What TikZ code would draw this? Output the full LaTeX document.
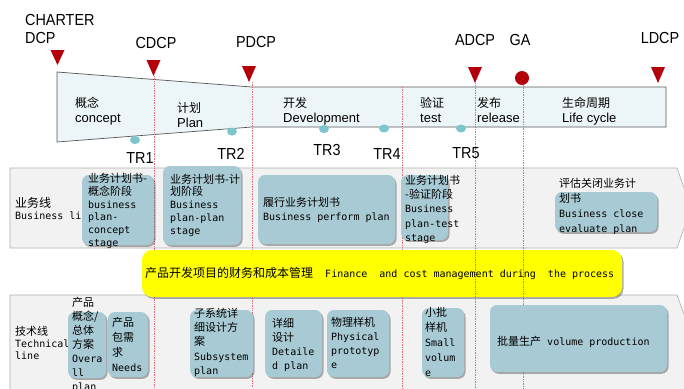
\documentclass[tikz,border=0pt]{standalone}
\usepackage{fontspec}
\setmainfont{Liberation Sans}
\newfontfamily\lab[FakeStretch=0.9]{Liberation Sans}
\newfontfamily\cjk{Noto Sans CJK SC}
\newfontfamily\mono{DejaVu Sans Mono}
\usetikzlibrary{shadows,shapes.geometric}
\definecolor{boxblue}{RGB}{168,202,212}
\definecolor{funnelfill}{RGB}{236,245,247}
\definecolor{bandfill}{RGB}{242,242,242}
\definecolor{banddraw}{RGB}{175,175,175}
\definecolor{trired}{RGB}{180,0,10}
\definecolor{linered}{RGB}{225,110,125}
\definecolor{teal}{RGB}{122,198,204}
\definecolor{ylw}{RGB}{255,255,0}
\newcommand\zh[1]{{\cjk\fontsize{11pt}{13pt}\selectfont #1}}
\begin{document}
\begin{tikzpicture}[x=1pt,y=-1pt,
  tri/.style={fill=trired},
  vline/.style={draw=linered, densely dotted, line width=0.7pt},
  bbox/.style={rounded corners=7pt, fill=boxblue, inner sep=0, drop shadow={shadow xshift=1.5pt,shadow yshift=-1.8pt,fill=black!70,opacity=.45}},
  lbl/.style={font=\lab\fontsize{16pt}{18pt}\selectfont, inner sep=0},
  ph/.style={anchor=base west, inner sep=0, align=left, font=\fontsize{13pt}{14.5pt}\selectfont},
  txt/.style={anchor=base west, inner sep=0, align=left},
  trdot/.style={ellipse, fill=teal, minimum width=10pt, minimum height=8pt, inner sep=0}
]
\useasboundingbox (0,0) rectangle (684,388);
\fill[white] (0,0) rectangle (684,388);
\clip (0,0) rectangle (684,388);

% bands
\draw[fill=bandfill, draw=banddraw, line width=0.6pt] (10,168) -- (677,168) -- (691,208) -- (677,248) -- (10,248) -- cycle;
\draw[fill=bandfill, draw=banddraw, line width=0.6pt] (10,295) -- (677,295) -- (697,350) -- (697,400) -- (10,400) -- cycle;

% funnel
\draw[fill=funnelfill, draw=black!65, line width=0.7pt] (57,72) -- (252,87) -- (666,87) -- (666,127) -- (252,127) -- (57,142) -- cycle;

% milestones
\fill[tri] (50.5,50) -- (64.5,50) -- (57.5,65) -- cycle;
\coordinate (charter) at (57.5,65);
\fill[tri] (146.5,60) -- (160.5,60) -- (153.5,76) -- cycle;
\coordinate (cdcp) at (154.5,76);
\fill[tri] (242,66) -- (256,66) -- (249,82) -- cycle;
\coordinate (pdcp) at (252,82);
\fill[tri] (468,67) -- (482,67) -- (475,83) -- cycle;
\coordinate (adcp) at (475,83);
\fill[tri] (651,67) -- (665,67) -- (658,83) -- cycle;
\coordinate (ldcp) at (658,83);
\node[circle, fill=trired, minimum size=14pt, inner sep=0] (ga) at (522,78) {};
\coordinate (devtest) at (402,87);

\coordinate (cdcpE) at (154.5,388);
\coordinate (pdcpE) at (252,388);
\coordinate (devtestE) at (402,388);
\coordinate (adcpE) at (475,388);
\coordinate (gaE) at (523.5,388);
\draw[vline] (cdcp) -- (cdcpE);
\draw[vline] (pdcp) -- (pdcpE);
\draw[vline] (devtest) -- (devtestE);
\draw[vline] (adcp) -- (adcpE);
\draw[vline] (523.5,85) -- (gaE);

% top labels
\node[lbl, anchor=west] (lcharter) at (25,19.5) {CHARTER};
\node[lbl, anchor=west] (ldcpc) at (25,37.5) {DCP};
\node[lbl] (lcdcp) at (156,42.5) {CDCP};
\node[lbl] (lpdcp) at (256,42) {PDCP};
\node[lbl] (ladcp) at (475,39.5) {ADCP};
\node[lbl] (lga) at (520,39.5) {GA};
\node[lbl] (lldcp) at (660,37.5) {LDCP};

% phases (anchor = baseline of last line)
\node[ph] (pconcept) at (75,122) {{\cjk\fontsize{12pt}{14pt}\selectfont 概念}\\concept};
\node[ph] (pplan) at (177,127) {{\cjk\fontsize{12pt}{14pt}\selectfont 计划}\\Plan};
\node[ph] (pdev) at (283,122) {{\cjk\fontsize{12pt}{14pt}\selectfont 开发}\\Development};
\node[ph] (ptest) at (420,122) {{\cjk\fontsize{12pt}{14pt}\selectfont 验证}\\test};
\node[ph] (prel) at (477,122) {{\cjk\fontsize{12pt}{14pt}\selectfont 发布}\\release};
\node[ph] (plife) at (562,122) {{\cjk\fontsize{12pt}{14pt}\selectfont 生命周期}\\Life cycle};

% TR
\node[trdot] (tr1d) at (135,140) {};
\node[trdot] (tr2d) at (232,131.5) {};
\node[trdot] (tr3d) at (324,129) {};
\node[trdot] (tr4d) at (384,128.5) {};
\node[trdot] (tr5d) at (461,128.5) {};
\node[lbl] (tr1) at (140,157.5) {TR1};
\node[lbl] (tr2) at (231,154) {TR2};
\node[lbl] (tr3) at (327,149.5) {TR3};
\node[lbl] (tr4) at (387,153.5) {TR4};
\node[lbl] (tr5) at (466,153.5) {TR5};

% business line
\node[txt, font={\cjk\fontsize{12pt}{14pt}\selectfont}] (bl1) at (15,207.5) {业务线};
\node[txt, font={\mono\fontsize{10pt}{12pt}\selectfont}] (bl2) at (15,219.5) {Business li};

\node[bbox, minimum width=72pt, minimum height=70pt] (b1) at (118,210) {};
\node[bbox, minimum width=78pt, minimum height=79pt] (b2) at (202,205.5) {};
\node[bbox, minimum width=137pt, minimum height=69pt] (b3) at (326.5,209.5) {};
\node[bbox, minimum width=47pt, minimum height=65pt] (b4) at (424.5,207.5) {};
\node[bbox, minimum width=102pt, minimum height=40pt] (b5) at (606,212) {};

\node[txt, font={\mono\fontsize{10pt}{12.8pt}\selectfont}] (b1t) at (88,246.5) {\zh{业务计划书-}\\\zh{概念阶段}\\business\\plan-\\concept\\stage};
\node[txt, font={\mono\fontsize{10pt}{12.9pt}\selectfont}] (b2t) at (170,234.6) {\zh{业务计划书-计}\\\zh{划阶段}\\Business\\plan-plan\\stage};
\node[txt, font={\mono\fontsize{10pt}{14.5pt}\selectfont}] (b3t) at (263,220.5) {\zh{履行业务计划书}\\Business perform plan};
\node[txt, font={\mono\fontsize{10pt}{14.4pt}\selectfont}] (b4t) at (405,241.6) {\zh{业务计划书}\\\zh{-验证阶段}\\Business\\plan-test\\stage};
\node[txt, font={\mono\fontsize{10pt}{15pt}\selectfont}] (b5t) at (559,232) {\zh{评估关闭业务计}\\\zh{划书}\\Business close\\evaluate plan};

% yellow
\node[rounded corners=10pt, fill=ylw, inner sep=0, minimum width=480pt, minimum height=47pt, drop shadow={shadow xshift=1.5pt,shadow yshift=-1.8pt,fill=black!70,opacity=.45}] (fin) at (382,273.5) {};
\draw[vline] (475,250) -- (475,297);
\draw[vline] (523.5,250) -- (523.5,297);
\node[anchor=west, inner sep=0, font={\mono\fontsize{10pt}{12pt}\selectfont}] (fint) at (145,274) {{\cjk\fontsize{12pt}{14pt}\selectfont 产品开发项目的财务和成本管理}~~Finance~~and cost management during~~the process};

% technical line
\node[txt, font={\cjk\fontsize{11pt}{13pt}\selectfont}] (tl1) at (15,335) {技术线};
\node[txt, font={\mono\fontsize{10pt}{12pt}\selectfont}] (tl2) at (15,359.5) {Technical\\line};

\node[bbox, minimum width=38pt, minimum height=66pt] (t1) at (87,345) {};
\node[bbox, minimum width=40pt, minimum height=65pt] (t2) at (128,344.5) {};
\node[bbox, minimum width=63pt, minimum height=67pt] (t3) at (221.5,343.5) {};
\node[bbox, minimum width=57pt, minimum height=67pt] (t4) at (293.5,343.5) {};
\node[bbox, minimum width=62pt, minimum height=67pt] (t5) at (358,343.5) {};
\node[bbox, minimum width=42pt, minimum height=69pt] (t6) at (443,342.5) {};
\node[bbox, minimum width=177pt, minimum height=67pt] (t7) at (578.5,338.5) {};

\node[txt, font={\mono\fontsize{10pt}{14pt}\selectfont}] (t1t) at (72,390) {\zh{产品}\\\zh{概念/}\\\zh{总体}\\\zh{方案}\\Overa\\ll\\plan};
\node[txt, font={\mono\fontsize{10pt}{15pt}\selectfont}] (t2t) at (112,371) {\zh{产品}\\\zh{包需}\\\zh{求}\\Needs};
\node[txt, font={\mono\fontsize{10pt}{14.4pt}\selectfont}] (t3t) at (194,374.6) {\zh{子系统详}\\\zh{细设计方}\\\zh{案}\\Subsystem\\plan};
\node[txt, font={\mono\fontsize{10pt}{14pt}\selectfont}] (t4t) at (272,369) {\zh{详细}\\\zh{设计}\\Detaile\\d plan};
\node[txt, font={\mono\fontsize{10pt}{14.2pt}\selectfont}] (t5t) at (331,368.6) {\zh{物理样机}\\Physical\\prototyp\\e};
\node[txt, font={\mono\fontsize{10pt}{15pt}\selectfont}] (t6t) at (425,376) {\zh{小批}\\\zh{样机}\\Small\\volum\\e};
\node[txt, font={\mono\fontsize{10pt}{12pt}\selectfont}] (t7t) at (497,345) {\zh{批量生产}~volume production};
\end{tikzpicture}
\end{document}
